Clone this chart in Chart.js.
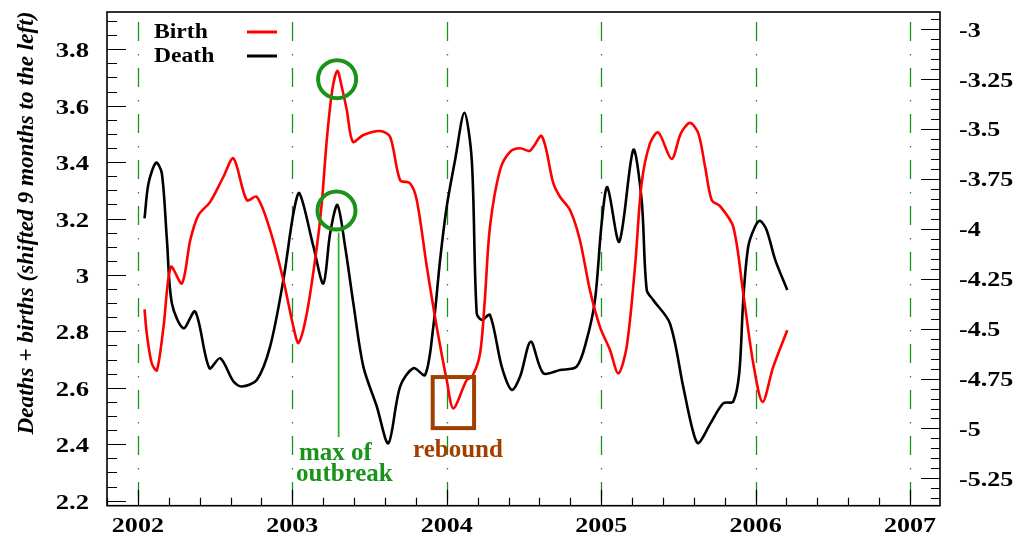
<!DOCTYPE html>
<html>
<head>
<meta charset="utf-8">
<script src="https://cdn.jsdelivr.net/npm/chart.js@4.4.1/dist/chart.umd.min.js"></script>
<style>
  html,body{margin:0;padding:0;background:#fff;}
  #wrap{width:1016px;height:535px;}
</style>
</head>
<body>
<div id="wrap"><canvas id="chart" width="1016" height="535"></canvas></div>
<script>
// -------- DATA ------------------------------
const birthYears  = [2002.043,2002.058,2002.09,2002.123,2002.166,2002.214,2002.285,2002.339,2002.392,2002.468,
                     2002.554,2002.619,2002.705,2002.770,2002.856,2002.942,2003.007,2003.040,2003.094,2003.159,
                     2003.190,2003.225,2003.260,2003.292,2003.320,2003.353,2003.392,2003.460,2003.568,2003.633,
                     2003.698,2003.762,2003.806,2003.871,2003.935,2004.000,2004.043,2004.129,2004.165,2004.215,
                     2004.245,2004.280,2004.345,2004.411,2004.475,2004.539,2004.615,2004.690,2004.733,2004.798,
                     2004.862,2004.927,2004.992,2005.057,2005.111,2005.165,2005.219,2005.262,2005.316,2005.370,
                     2005.456,2005.516,2005.575,2005.629,2005.673,2005.716,2005.770,2005.855,2005.920,2005.985,
                     2006.045,2006.114,2006.205];
const birthValues = [2.878,2.79,2.686,2.662,2.816,3.029,2.970,3.123,3.212,3.259,
                     3.348,3.413,3.265,3.277,3.159,2.982,2.816,2.759,2.864,3.100,
                     3.25,3.49,3.66,3.724,3.667,3.584,3.472,3.496,3.510,3.490,
                     3.336,3.325,3.265,3.029,2.816,2.627,2.527,2.627,2.64,2.72,
                     2.90,3.171,3.372,3.437,3.449,3.440,3.492,3.325,3.277,3.230,
                     3.124,2.946,2.816,2.734,2.651,2.745,3.029,3.325,3.466,3.505,
                     3.411,3.502,3.539,3.502,3.383,3.265,3.244,3.171,2.934,2.686,
                     2.550,2.674,2.804];

const deathYears  = [2002.043,2002.069,2002.118,2002.155,2002.188,2002.220,2002.295,2002.371,2002.463,2002.533,
                     2002.619,2002.673,2002.770,2002.856,2002.942,2003.007,2003.046,2003.137,2003.201,2003.245,
                     2003.292,2003.342,2003.395,2003.460,2003.547,2003.622,2003.698,2003.784,2003.860,2003.913,
                     2003.957,2004.000,2004.054,2004.114,2004.162,2004.194,2004.227,2004.280,2004.356,2004.421,
                     2004.475,2004.544,2004.625,2004.733,2004.841,2004.906,2004.960,2005.003,2005.040,2005.117,
                     2005.208,2005.262,2005.295,2005.337,2005.445,2005.531,2005.592,2005.629,2005.705,2005.790,
                     2005.855,2005.894,2005.920,2005.952,2005.996,2006.028,2006.071,2006.127,2006.205];
const deathValues = [-3.947,-3.771,-3.668,-3.721,-4.055,-4.372,-4.498,-4.414,-4.698,-4.648,
                     -4.765,-4.790,-4.757,-4.590,-4.256,-3.922,-3.821,-4.089,-4.274,-4.022,
                     -3.880,-4.089,-4.372,-4.690,-4.890,-5.074,-4.790,-4.698,-4.732,-4.490,
                     -4.155,-3.888,-3.655,-3.418,-3.655,-4.422,-4.456,-4.431,-4.690,-4.807,
                     -4.740,-4.565,-4.723,-4.707,-4.690,-4.556,-4.356,-3.972,-3.791,-4.064,
                     -3.604,-3.855,-4.306,-4.356,-4.473,-4.790,-5.007,-5.074,-4.978,-4.874,
                     -4.865,-4.723,-4.356,-4.089,-3.989,-3.959,-4.005,-4.155,-4.306];

const yearTicks  = [2002,2003,2004,2005,2006,2007];
const leftTicks  = [2.2,2.4,2.6,2.8,3.0,3.2,3.4,3.6,3.8];
const rightTicks = [-5.25,-5,-4.75,-4.5,-4.25,-4,-3.75,-3.5,-3.25,-3];
const seriesNames = ['Birth','Death'];

const pts = (xs, ys) => xs.map((x,i)=>({x, y: ys[i]}));
const fmt = v => String(parseFloat(v.toFixed(2)));

// stretched text helper (the original serif type is wide)
function sText(ctx, str, x, y, font, sx, align, color){
  ctx.save();
  ctx.font = font;
  ctx.fillStyle = color;
  ctx.textAlign = 'left';
  ctx.textBaseline = 'alphabetic';
  const w = ctx.measureText(str).width * sx;
  const x0 = align==='right' ? x-w : align==='center' ? x-w/2 : x;
  ctx.translate(x0, y);
  ctx.scale(sx, 1);
  ctx.fillText(str, 0, 0);
  ctx.restore();
}

const SERIF = '"Liberation Serif", "Times New Roman", serif';
const GREEN = '#1b931b';
const BROWN = '#a04000';

// -------- decorations: dashed year lines (under the data) ----------
const yearLines = {
  id:'yearLines',
  beforeDatasetsDraw(chart){
    const {ctx, chartArea:a, scales:{x}} = chart;
    ctx.save();
    ctx.strokeStyle = GREEN;
    ctx.lineWidth = 1.3;
    ctx.setLineDash([19,13,1.5,12.5]);
    yearTicks.forEach(v=>{
      const px = Math.round(x.getPixelForValue(v)) + 0.5;
      ctx.beginPath();
      ctx.moveTo(px, a.top + 10);
      ctx.lineTo(px, a.bottom);
      ctx.stroke();
    });
    ctx.restore();
  }
};

// -------- frame, inward ticks, labels, legend, notes ----------
const frame = {
  id:'frame',
  afterDraw(chart){
    const {ctx, chartArea:a, scales:{x, y, y1}} = chart;
    ctx.save();

    // frame
    ctx.strokeStyle = '#000';
    ctx.lineWidth = 1.6;
    ctx.strokeRect(a.left, a.top, a.right-a.left, a.bottom-a.top);

    // tick marks (drawn inwards)
    ctx.lineWidth = 1.2;
    ctx.beginPath();
    for (let v = 2.2; v <= y.max + 1e-9; v += 0.05){
      const py = Math.round(y.getPixelForValue(v)) + 0.5;
      const major = Math.abs(v*5 - Math.round(v*5)) < 1e-6;
      ctx.moveTo(a.left, py); ctx.lineTo(a.left + (major ? 19 : 10), py);
    }
    for (let v = -5.35; v <= y1.max + 1e-9; v += 0.05){
      const py = Math.round(y1.getPixelForValue(v)) + 0.5;
      const major = Math.abs(v*4 - Math.round(v*4)) < 1e-6;
      ctx.moveTo(a.right, py); ctx.lineTo(a.right - (major ? 19 : 9), py);
    }
    for (let v = 2001.8; v <= x.max + 1e-9; v += 0.2){
      const px = Math.round(x.getPixelForValue(v)) + 0.5;
      const major = Math.abs(v - Math.round(v)) < 1e-6;
      ctx.moveTo(px, a.bottom); ctx.lineTo(px, a.bottom - (major ? 16 : 8));
    }
    ctx.stroke();

    // tick labels
    const tickFont = 'bold 21px ' + SERIF;
    y.ticks.forEach(t=> sText(ctx, fmt(t.value), a.left-18, y.getPixelForValue(t.value)+8, tickFont, 1.27, 'right', '#000'));
    y1.ticks.forEach(t=> sText(ctx, fmt(t.value), a.right+19, y1.getPixelForValue(t.value)+7.3, tickFont, 1.24, 'left', '#000'));
    x.ticks.forEach(t=> sText(ctx, String(t.value), x.getPixelForValue(t.value), 531.5, tickFont, 1.24, 'center', '#000'));

    // y title
    ctx.save();
    ctx.translate(32.5, 223);
    ctx.rotate(-Math.PI/2);
    ctx.font = 'italic bold 24px ' + SERIF;
    const title = 'Deaths + births (shifted 9 months to the left)';
    const tw = ctx.measureText(title).width;
    sText(ctx, title, 0, 0, ctx.font, 423/tw, 'center', '#000');
    ctx.restore();

    // legend
    const legFont = 'bold 20px ' + SERIF;
    chart.data.datasets.forEach((ds,i)=>{
      const yy = 37.5 + i*24;
      sText(ctx, ds.label, 154, yy, legFont, 1.18, 'left', '#000');
      ctx.strokeStyle = ds.borderColor;
      ctx.lineWidth = 3;
      ctx.beginPath();
      ctx.moveTo(247, yy-5.5); ctx.lineTo(277, yy-5.5);
      ctx.stroke();
    });

    // notes: outbreak maximum
    const ox = x.getPixelForValue(2003.30);
    ctx.strokeStyle = '#2cb52c';
    ctx.lineWidth = 1.8;
    ctx.beginPath();
    ctx.moveTo(ox, y.getPixelForValue(3.15));
    ctx.lineTo(ox, y.getPixelForValue(2.425));
    ctx.stroke();

    ctx.strokeStyle = GREEN;
    ctx.lineWidth = 4;
    [[2003.29, y.getPixelForValue(3.694)], [2003.286, y1.getPixelForValue(-3.908)]].forEach(([cx, cy])=>{
      ctx.beginPath();
      ctx.arc(x.getPixelForValue(cx), cy, 19, 0, Math.PI*2);
      ctx.stroke();
    });
    const noteFont = 'bold 25px ' + SERIF;
    sText(ctx, 'max of', 299, 460, noteFont, 1.0, 'left', GREEN);
    sText(ctx, 'outbreak', 296, 481, noteFont, 1.0, 'left', GREEN);

    // notes: rebound
    const rx0 = x.getPixelForValue(2003.909), rx1 = x.getPixelForValue(2004.177);
    const ry0 = y.getPixelForValue(2.638), ry1 = y.getPixelForValue(2.457);
    ctx.strokeStyle = BROWN;
    ctx.lineWidth = 4;
    ctx.strokeRect(rx0, ry0, rx1-rx0, ry1-ry0);
    sText(ctx, 'rebound', 458, 456.5, noteFont, 1.0, 'center', BROWN);

    ctx.restore();
  }
};

const fixedTicks = arr => scale => { scale.ticks = arr.map(v=>({value:v})); };

new Chart(document.getElementById('chart').getContext('2d'), {
  type:'line',
  data:{
    datasets:[{
      label: seriesNames[0],
      data: pts(birthYears, birthValues),
      yAxisID:'y',
      borderColor:'#ff0000',
      borderWidth:2.6,
      pointRadius:0,
      tension:0.3,
      fill:false
    },{
      label: seriesNames[1],
      data: pts(deathYears, deathValues),
      yAxisID:'y1',
      borderColor:'#000000',
      borderWidth:2.6,
      pointRadius:0,
      tension:0.3,
      fill:false
    }]
  },
  options:{
    responsive:false,
    animation:false,
    layout:{padding:{top:12,left:0,right:0,bottom:0}},
    plugins:{legend:{display:false}, tooltip:{enabled:false}},
    scales:{
      x:{
        type:'linear', min:2001.8, max:2007.194,
        afterBuildTicks: fixedTicks(yearTicks),
        afterFit: s=>{ s.height = 29.3; },
        ticks:{display:false},
        grid:{display:false, drawTicks:false},
        border:{display:false}
      },
      y:{
        position:'left', min:2.182, max:3.932,
        afterBuildTicks: fixedTicks(leftTicks),
        afterFit: s=>{ s.width = 107; },
        ticks:{display:false},
        grid:{display:false, drawTicks:false},
        border:{display:false}
      },
      y1:{
        position:'right', min:-5.387, max:-2.913,
        afterBuildTicks: fixedTicks(rightTicks),
        afterFit: s=>{ s.width = 76; },
        ticks:{display:false},
        grid:{display:false, drawTicks:false},
        border:{display:false}
      }
    }
  },
  plugins:[yearLines, frame]
});
</script>
</body>
</html>
